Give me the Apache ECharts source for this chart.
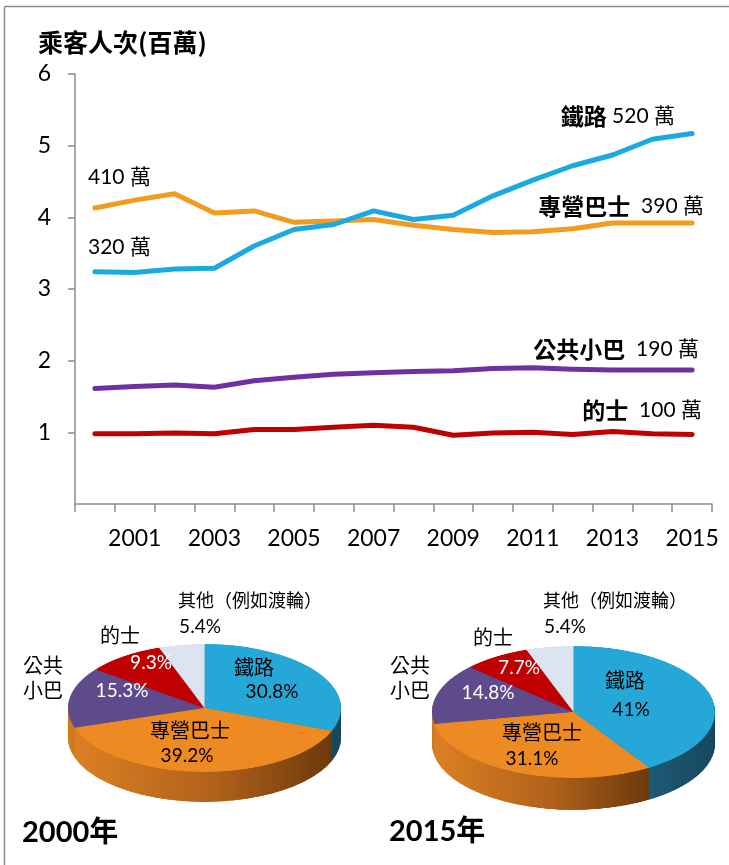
<!DOCTYPE html>
<html>
<head>
<meta charset="utf-8">
<script src="https://cdn.jsdelivr.net/npm/echarts@6/dist/echarts.min.js"></script>
<style>
  html, body { margin: 0; padding: 0; background: #fff; }
  #wrap { position: relative; width: 729px; height: 865px; overflow: hidden; }
  .pie { position: absolute; transform-origin: 0 0; }
  #main { position: absolute; left: 0; top: 0; width: 729px; height: 865px; }
</style>
</head>
<body>
<div id="wrap">
  <div id="pie2000" class="pie"></div>
  <div id="pie2015" class="pie"></div>
  <div id="main"></div>
</div>
<script>
(function () {
    'use strict';

    // daily passenger trips, millions
    const years = ['2000', '2001', '2002', '2003', '2004', '2005', '2006', '2007',
        '2008', '2009', '2010', '2011', '2012', '2013', '2014', '2015'];
    const rail = [3.24, 3.23, 3.28, 3.29, 3.60, 3.83, 3.90, 4.09, 3.97, 4.03, 4.30, 4.52, 4.72, 4.87, 5.09, 5.17];
    const bus = [4.13, 4.24, 4.33, 4.06, 4.09, 3.93, 3.95, 3.97, 3.89, 3.83, 3.79, 3.80, 3.84, 3.92, 3.92, 3.92];
    const minibus = [1.61, 1.64, 1.66, 1.63, 1.72, 1.77, 1.81, 1.83, 1.85, 1.86, 1.89, 1.90, 1.88, 1.87, 1.87, 1.87];
    const taxi = [0.98, 0.98, 0.99, 0.98, 1.04, 1.04, 1.07, 1.10, 1.07, 0.96, 0.99, 1.00, 0.97, 1.01, 0.98, 0.97];

    const lineNames = ['鐵路', '專營巴士', '公共小巴', '的士'];
    const endText = ['520 萬', '390 萬', '190 萬', '100 萬'];
    const startText = ['320 萬', '410 萬'];
    const yTicks = [0, 1, 2, 3, 4, 5, 6];

    // mode share, percent
    const pieNames = ['鐵路', '專營巴士', '公共小巴', '的士', '其他（例如渡輪）'];
    const share2000 = [30.8, 39.2, 15.3, 9.3, 5.4];
    const share2015 = [41, 31.1, 14.8, 7.7, 5.4];

    const LATIN = 'Lato, "Noto Sans CJK TC", sans-serif';
    const CJK = '"Noto Sans CJK TC", sans-serif';
    const AXIS_GREY = '#8c8c8c';
    const lineColors = ['#1ba9e1', '#f29c1f', '#7030a0', '#c00000'];

    const topColors = ['#25a8d7', '#ee8a22', '#5f4b8b', '#c00000', '#dce4ef'];
    function sideColors () {
        return [
            new echarts.graphic.LinearGradient(0, 0, 1, 0, [
                { offset: 0, color: '#24708f' }, { offset: 1, color: '#17475d' }]),
            new echarts.graphic.LinearGradient(0, 0, 1, 0, [
                { offset: 0, color: '#dc8024' }, { offset: 0.55, color: '#b0611a' }, { offset: 1, color: '#6c390c' }]),
            '#d27a22', '#780000', '#9aa5b5'
        ];
    }

    function pieLayer (shares, colors, center, r) {
        return {
            type: 'pie',
            silent: true,
            center: center,
            radius: [0, r],
            startAngle: 90,
            clockwise: true,
            label: { show: false },
            labelLine: { show: false },
            emphasis: { disabled: true },
            itemStyle: { borderWidth: 0 },
            data: shares.map((v, i) => ({ name: pieNames[i], value: v, itemStyle: { color: colors[i] } }))
        };
    }

    // 3D-looking pie: a circular pie squashed with CSS, side wall built from stacked darker pies
    function makePie (id, shares, cx, cy, rx, ry, depth) {
        const s = ry / rx;
        const depthU = depth / s;
        const pad = 2;
        const w = Math.ceil(2 * rx + 2 * pad);
        const h = Math.ceil(2 * rx + depthU + 2 * pad);
        const el = document.getElementById(id);
        el.style.left = (cx - w / 2) + 'px';
        el.style.top = (cy - ry - pad * s) + 'px';
        el.style.width = w + 'px';
        el.style.height = h + 'px';
        el.style.transform = `scaleY(${s})`;
        const chart = echarts.init(el);
        const side = sideColors();
        const series = [];
        for (let off = depthU; off > 0; off -= 2) {
            series.push(pieLayer(shares, side, [w / 2, rx + pad + off], rx));
        }
        series.push(pieLayer(shares, topColors, [w / 2, rx + pad], rx));
        chart.setOption({ backgroundColor: 'transparent', animation: false, series: series });
    }

    makePie('pie2000', share2000, 204.5, 708, 136.5, 64, 30);
    makePie('pie2015', share2015, 573.5, 712, 141.5, 66, 32);

    function lineSeries (name, data, color) {
        return {
            type: 'line',
            name: name,
            data: data,
            showSymbol: false,
            silent: true,
            lineStyle: { width: 5, color: color, cap: 'round', join: 'round' },
            itemStyle: { color: color },
            z: 3
        };
    }

    function richLabel (x, y, name, value, gap) {
        return {
            type: 'text', x: x, y: y, z: 10,
            style: {
                text: `{b|${name}}${gap}{n|${value}}`,
                align: 'right', verticalAlign: 'middle',
                fontFamily: LATIN, fontSize: 21, fill: '#000',
                rich: {
                    b: { fontFamily: CJK, fontWeight: 'bold', fontSize: 23, fill: '#000' },
                    n: { fontFamily: LATIN, fontSize: 21, fill: '#000' }
                }
            }
        };
    }

    function plainText (x, y, text, opts) {
        return {
            type: 'text', x: x, y: y, z: 10,
            style: Object.assign({
                text: text, align: 'center', verticalAlign: 'middle',
                fontFamily: CJK, fontSize: 20, fill: '#000', lineHeight: 25
            }, opts || {})
        };
    }

    function pct (v) { return v + '%'; }

    function pieLabels (shares, pos) {
        const items = [];
        items.push(plainText(pos.other[0], pos.other[1], pieNames[4], { fontSize: 18 }));
        items.push(plainText(pos.otherPct[0], pos.otherPct[1], pct(shares[4]), { fontFamily: LATIN, fontSize: 19 }));
        items.push(plainText(pos.taxi[0], pos.taxi[1], pieNames[3]));
        items.push(plainText(pos.taxiPct[0], pos.taxiPct[1], pct(shares[3]), { fontFamily: LATIN, fontSize: 19, fill: '#fff' }));
        items.push(plainText(pos.mini[0], pos.mini[1], pieNames[2].slice(0, 2) + '\n' + pieNames[2].slice(2)));
        items.push(plainText(pos.miniPct[0], pos.miniPct[1], pct(shares[2]), { fontFamily: LATIN, fontSize: 19, fill: '#fff' }));
        items.push(plainText(pos.rail[0], pos.rail[1], pieNames[0]));
        items.push(plainText(pos.railPct[0], pos.railPct[1], pct(shares[0]), { fontFamily: LATIN, fontSize: 19 }));
        items.push(plainText(pos.bus[0], pos.bus[1], pieNames[1]));
        items.push(plainText(pos.busPct[0], pos.busPct[1], pct(shares[1]), { fontFamily: LATIN, fontSize: 19 }));
        items.push(plainText(pos.year[0], pos.year[1], pos.yearText,
            { align: 'left', fontFamily: LATIN, fontWeight: 'bold', fontSize: 29 }));
        return items;
    }

    const graphics = [
        { type: 'line', shape: { x1: 4.5, y1: 6.5, x2: 729, y2: 6.5 }, style: { stroke: AXIS_GREY, lineWidth: 1.5 } },
        { type: 'line', shape: { x1: 4.5, y1: 6.5, x2: 4.5, y2: 865 }, style: { stroke: AXIS_GREY, lineWidth: 1.5 } },
        plainText(38, 42, '乘客人次(百萬)', { align: 'left', fontWeight: 'bold', fontSize: 25 }),
        richLabel(675, 116, lineNames[0], endText[0], ' '),
        richLabel(704, 206, lineNames[1], endText[1], '  '),
        richLabel(699, 349, lineNames[2], endText[2], '  '),
        richLabel(702, 410, lineNames[3], endText[3], '  '),
        plainText(88, 247, startText[0], { align: 'left', fontFamily: LATIN, fontSize: 21 }),
        plainText(88, 177, startText[1], { align: 'left', fontFamily: LATIN, fontSize: 21 })
    ].concat(pieLabels(share2000, {
        other: [250, 600], otherPct: [200, 627], taxi: [120, 635], taxiPct: [151, 663],
        mini: [43, 678], miniPct: [122, 691], rail: [254, 667], railPct: [272, 692],
        bus: [190, 730], busPct: [187, 756], year: [22, 833], yearText: '2000年'
    })).concat(pieLabels(share2015, {
        other: [615, 600], otherPct: [565, 627], taxi: [493, 637], taxiPct: [519, 668],
        mini: [410, 678], miniPct: [488, 693], rail: [625, 680], railPct: [631, 710],
        bus: [542, 732], busPct: [532, 759], year: [389, 832], yearText: '2015年'
    }));

    const chart = echarts.init(document.getElementById('main'));
    chart.setOption({
        backgroundColor: 'transparent',
        animation: false,
        grid: { left: 75, right: 17, top: 74, bottom: 361 },
        xAxis: {
            type: 'category',
            data: years,
            boundaryGap: true,
            axisLine: { lineStyle: { color: AXIS_GREY, width: 1.5 } },
            axisTick: { show: true, interval: 0, length: 8, lineStyle: { color: AXIS_GREY, width: 1.5 } },
            axisLabel: {
                interval: (i) => i % 2 === 1,
                margin: 23, fontSize: 23, fontFamily: LATIN, color: '#000'
            },
            splitLine: { show: false }
        },
        yAxis: {
            type: 'value',
            min: yTicks[0], max: yTicks[yTicks.length - 1], interval: 1,
            axisLine: { show: true, lineStyle: { color: AXIS_GREY, width: 1.5 } },
            axisTick: { show: true, length: 7, lineStyle: { color: AXIS_GREY, width: 1.5 } },
            axisLabel: { margin: 24, fontSize: 23, fontFamily: LATIN, color: '#000', showMinLabel: false },
            splitLine: { show: false }
        },
        series: [
            lineSeries(lineNames[3], taxi, lineColors[3]),
            lineSeries(lineNames[2], minibus, lineColors[2]),
            lineSeries(lineNames[1], bus, lineColors[1]),
            lineSeries(lineNames[0], rail, lineColors[0])
        ],
        graphic: graphics
    });
}());
</script>
</body>
</html>
